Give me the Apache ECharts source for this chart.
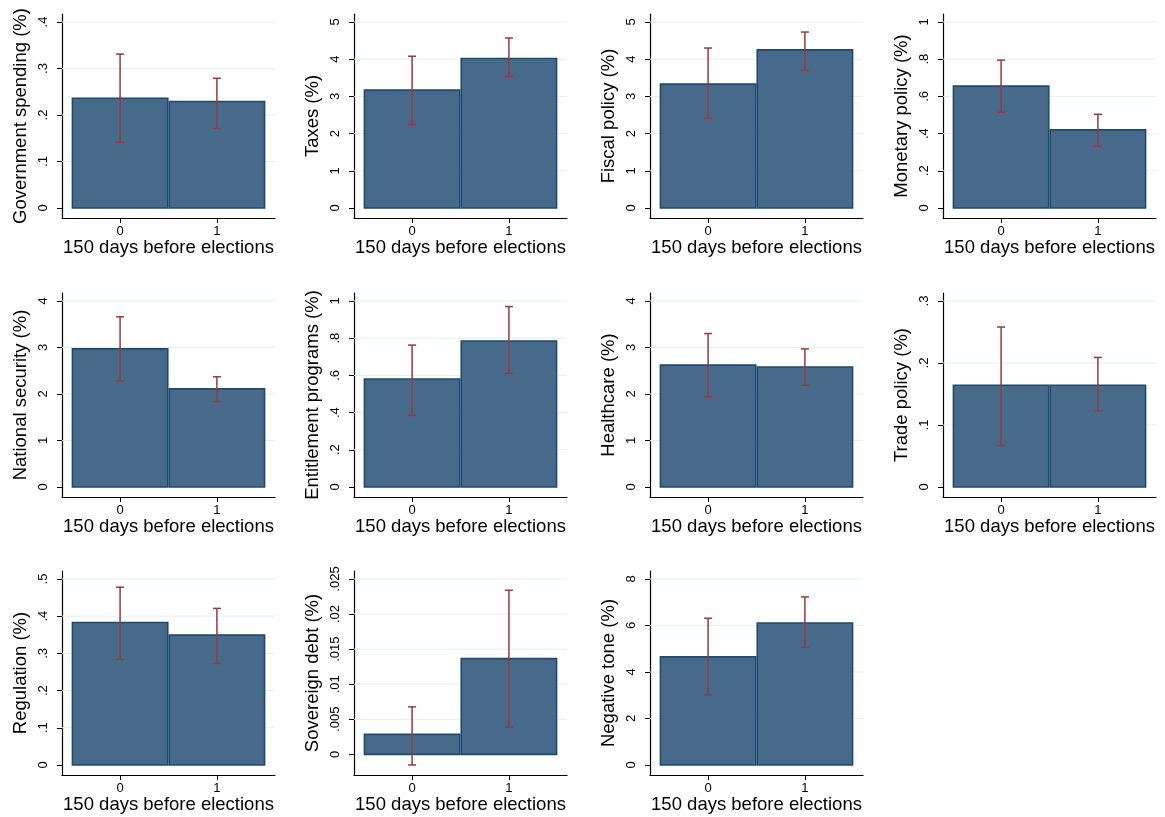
<!DOCTYPE html>
<html><head><meta charset="utf-8">
<script src="https://cdn.jsdelivr.net/npm/echarts@6/dist/echarts.min.js"></script>
<style>html,body{margin:0;padding:0;background:#fff}#c{width:1165px;height:817px}</style>
</head><body><div id="c"></div>
<script>
// ---- data ----
const titles = ['Government spending (%)','Taxes (%)','Fiscal policy (%)','Monetary policy (%)',
  'National security (%)','Entitlement programs (%)','Healthcare (%)','Trade policy (%)',
  'Regulation (%)','Sovereign debt (%)','Negative tone (%)'];
const xCategories = [0, 1];
const xTickLabels = ['0', '1'];
const xTitle = '150 days before elections';
// bar heights for x = 0 and x = 1
const means = [[0.236,0.229],[3.17,4.02],[3.33,4.25],[0.655,0.42],
  [2.97,2.11],[0.581,0.785],[2.62,2.58],[0.164,0.164],
  [0.383,0.349],[0.00284,0.01364],[4.65,6.11]];
// confidence interval lower / upper bounds
const lows = [[0.141,0.171],[2.25,3.54],[2.41,3.70],[0.514,0.332],
  [2.28,1.84],[0.385,0.611],[1.94,2.19],[0.067,0.123],
  [0.284,0.273],[-0.00152,0.00388],[3.01,5.06]];
const highs = [[0.331,0.279],[4.08,4.57],[4.30,4.73],[0.795,0.504],
  [3.66,2.37],[0.763,0.97],[3.30,2.97],[0.258,0.209],
  [0.478,0.421],[0.00677,0.0234],[6.31,7.23]];
const yTicks = [[0,0.1,0.2,0.3,0.4],[0,1,2,3,4,5],[0,1,2,3,4,5],[0,0.2,0.4,0.6,0.8,1],
  [0,1,2,3,4],[0,0.2,0.4,0.6,0.8,1],[0,1,2,3,4],[0,0.1,0.2,0.3],
  [0,0.1,0.2,0.3,0.4,0.5],[0,0.005,0.01,0.015,0.02,0.025],[0,2,4,6,8]];

// ---- layout / style ----
const colLeft = [62, 354, 650, 943];
const rowTop = [14, 293, 571];
const plotW = 213, plotH = 204, padTop = 8, padBot = 10;
const FONT = '"Liberation Sans", Arial, sans-serif';
const barFill = '#486a8a', barStroke = '#1e4a70', errColor = '#933b41', gridColor = '#e6eef0';

function fmt(v){ return String(+v.toPrecision(6)).replace(/^0\./,'.').replace(/^-0\./,'-.'); }

const grid = [], xAxis = [], yAxis = [], series = [];
titles.forEach((t, i) => {
  const r = Math.floor(i/4), c = i%4;
  grid.push({left: colLeft[c], top: rowTop[r], width: plotW, height: plotH});
  const ticks = yTicks[i];
  const lo = Math.min(0, ...lows[i]);
  const hi = Math.max(ticks[ticks.length-1], ...highs[i]);
  const inner = plotH - padTop - padBot;
  const span = hi - lo;
  xAxis.push({
    gridIndex: i, type: 'value', min: -0.6, max: 1.6,
    name: xTitle, nameLocation: 'middle', nameGap: 20,
    nameTextStyle: {fontFamily: FONT, fontSize: 18.5, color: '#000'},
    axisLine: {show: true, onZero: false, lineStyle: {color: '#000', width: 1.2}},
    axisTick: {show: true, length: 5, customValues: xCategories, lineStyle: {color: '#000'}},
    axisLabel: {customValues: xCategories, formatter: v => xTickLabels[xCategories.indexOf(v)] ?? '',
      fontFamily: FONT, fontSize: 13, color: '#000', margin: 7},
    splitLine: {show: false}
  });
  yAxis.push({
    gridIndex: i, type: 'value',
    min: lo - span*padBot/inner, max: hi + span*padTop/inner,
    name: t, nameLocation: 'middle', nameGap: 32, nameRotate: 90,
    nameTextStyle: {fontFamily: FONT, fontSize: 18.5, color: '#000'},
    axisLine: {show: true, onZero: false, lineStyle: {color: '#000', width: 1.2}},
    axisTick: {show: true, length: 5, customValues: ticks, lineStyle: {color: '#000'}},
    axisLabel: {customValues: ticks, rotate: 90, formatter: v => fmt(v),
      fontFamily: FONT, fontSize: 13, color: '#000', margin: 12},
    splitLine: {show: false}
  });
  // grid lines
  series.push({
    type: 'custom', xAxisIndex: i, yAxisIndex: i, z: 1, silent: true,
    data: ticks.filter(v => v !== 0).map(v => [v]),
    renderItem: (p, api) => {
      const v = api.value(0);
      const a = api.coord([-0.6, v]), b = api.coord([1.6, v]);
      return {type: 'line', shape: {x1: a[0], y1: a[1], x2: b[0], y2: b[1]},
        style: {stroke: gridColor, lineWidth: 1}};
    }
  });
  // bars
  series.push({
    type: 'custom', xAxisIndex: i, yAxisIndex: i, z: 2, clip: false,
    data: xCategories.map((x, k) => [x, means[i][k]]),
    renderItem: (p, api) => {
      const x = api.value(0), v = api.value(1);
      const p0 = api.coord([x - 0.5, 0]), p1 = api.coord([x + 0.5, v]);
      return {type: 'rect', shape: {x: p0[0] + 0.75, y: p1[1], width: p1[0] - p0[0] - 1.5, height: p0[1] - p1[1]},
        style: {fill: barFill, stroke: barStroke, lineWidth: 1.6}};
    }
  });
  // error bars
  series.push({
    type: 'custom', xAxisIndex: i, yAxisIndex: i, z: 3, clip: false,
    data: xCategories.map((x, k) => [x, lows[i][k], highs[i][k]]),
    renderItem: (p, api) => {
      const x = api.value(0);
      const a = api.coord([x, api.value(1)]), b = api.coord([x, api.value(2)]);
      const cw = 4, st = {stroke: errColor, lineWidth: 1.5};
      return {type: 'group', children: [
        {type: 'line', shape: {x1: a[0], y1: a[1], x2: b[0], y2: b[1]}, style: st},
        {type: 'line', shape: {x1: a[0]-cw, y1: a[1], x2: a[0]+cw, y2: a[1]}, style: st},
        {type: 'line', shape: {x1: b[0]-cw, y1: b[1], x2: b[0]+cw, y2: b[1]}, style: st}
      ]};
    }
  });
});

const chart = echarts.init(document.getElementById('c'), null, {renderer: 'canvas'});
chart.setOption({animation: false, backgroundColor: '#fff', grid, xAxis, yAxis, series});
</script>
</body></html>
